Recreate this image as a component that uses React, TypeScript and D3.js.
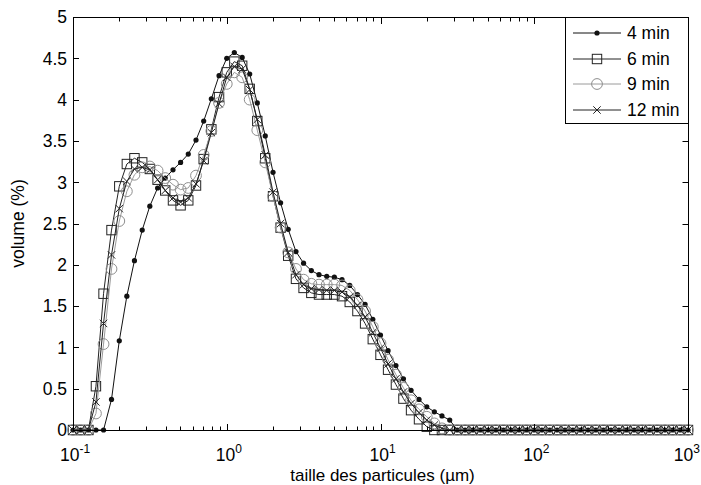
import React from "react";
import * as d3 from "d3";

const sizes = [
  0.1, 0.112, 0.126, 0.141, 0.158, 0.178, 0.2, 0.224, 0.251, 0.282, 0.316, 0.355, 0.398, 0.447, 0.501, 0.562, 0.631, 0.708, 0.794, 0.891,
  1, 1.12, 1.26, 1.41, 1.58, 1.78, 2, 2.24, 2.51, 2.82, 3.16, 3.55, 3.98, 4.47, 5.01, 5.62, 6.31, 7.08, 7.94, 8.91,
  10, 11.2, 12.6, 14.1, 15.8, 17.8, 20, 22.4, 25.1, 28.2, 31.6, 35.5, 39.8, 44.7, 50.1, 56.2, 63.1, 70.8, 79.4, 89.1,
  100, 112, 126, 141, 158, 178, 200, 224, 251, 282, 316, 355, 398, 447, 501, 562, 631, 708, 794, 891, 1000,
];

const min4 = [
  0, 0, 0, 0, 0, 0.37, 1.08, 1.62, 2.05, 2.42, 2.71, 2.93, 3.05, 3.15, 3.24, 3.34, 3.51, 3.74, 4.01, 4.29,
  4.5, 4.57, 4.51, 4.31, 3.96, 3.56, 3.12, 2.75, 2.43, 2.16, 2.02, 1.93, 1.88, 1.86, 1.85, 1.82, 1.75, 1.64, 1.52, 1.34,
  1.15, 0.96, 0.78, 0.62, 0.48, 0.37, 0.28, 0.22, 0.17, 0.12, 0, 0, 0, 0, 0, 0, 0, 0, 0, 0,
  0, 0, 0, 0, 0, 0, 0, 0, 0, 0, 0, 0, 0, 0, 0, 0, 0, 0, 0, 0, 0,
];

const min6 = [
  0, 0, 0, 0.53, 1.65, 2.42, 2.95, 3.22, 3.29, 3.24, 3.16, 3.03, 2.9, 2.78, 2.72, 2.78, 2.96, 3.28, 3.64, 4.03,
  4.33, 4.46, 4.41, 4.13, 3.74, 3.29, 2.83, 2.45, 2.11, 1.83, 1.72, 1.66, 1.64, 1.64, 1.64, 1.62, 1.55, 1.44, 1.29, 1.1,
  0.91, 0.73, 0.55, 0.38, 0.24, 0.13, 0.04, 0, 0, 0, 0, 0, 0, 0, 0, 0, 0, 0, 0, 0,
  0, 0, 0, 0, 0, 0, 0, 0, 0, 0, 0, 0, 0, 0, 0, 0, 0, 0, 0, 0, 0,
];

const min9 = [
  0, 0, 0, 0.2, 1.04, 1.95, 2.53, 2.89, 3.09, 3.18, 3.19, 3.14, 3.05, 2.97, 2.91, 2.93, 3.08, 3.33, 3.62, 3.96,
  4.19, 4.33, 4.27, 4.0, 3.63, 3.24, 2.83, 2.45, 2.15, 1.95, 1.82, 1.77, 1.76, 1.76, 1.76, 1.75, 1.69, 1.58, 1.44, 1.25,
  1.05, 0.85, 0.67, 0.51, 0.36, 0.25, 0.16, 0.08, 0.02, 0, 0, 0, 0, 0, 0, 0, 0, 0, 0, 0,
  0, 0, 0, 0, 0, 0, 0, 0, 0, 0, 0, 0, 0, 0, 0, 0, 0, 0, 0, 0, 0,
];

const min12 = [
  0, 0, 0, 0.34, 1.29, 2.12, 2.68, 3.01, 3.16, 3.18, 3.15, 3.03, 2.9, 2.81, 2.76, 2.81, 2.98, 3.26, 3.6, 3.95,
  4.27, 4.4, 4.37, 4.12, 3.76, 3.33, 2.88, 2.5, 2.15, 1.88, 1.76, 1.71, 1.7, 1.69, 1.69, 1.67, 1.61, 1.51, 1.37, 1.18,
  0.99, 0.8, 0.62, 0.46, 0.32, 0.21, 0.12, 0.06, 0.02, 0, 0, 0, 0, 0, 0, 0, 0, 0, 0, 0,
  0, 0, 0, 0, 0, 0, 0, 0, 0, 0, 0, 0, 0, 0, 0, 0, 0, 0, 0, 0, 0,
];

const seriesNames = ["4 min", "6 min", "9 min", "12 min"];
const yTicks = [0, 0.5, 1, 1.5, 2, 2.5, 3, 3.5, 4, 4.5, 5];
const yTickLabels = ["0", "0.5", "1", "1.5", "2", "2.5", "3", "3.5", "4", "4.5", "5"];
const xMajor = [0.1, 1, 10, 100, 1000];
const xExponents = ["-1", "0", "1", "2", "3"];

const W = 701;
const H = 485;
const L = 73;
const R = 688;
const T = 17;
const B = 430;
const FONT = "'Liberation Sans', Arial, Helvetica, sans-serif";
const FS = 17.5;

type Kind = "dot" | "square" | "circle" | "cross";

function Marker({ kind, x, y, color }: { kind: Kind; x: number; y: number; color: string }) {
  if (kind === "dot") return <circle cx={x} cy={y} r={2.6} fill={color} stroke="none" />;
  if (kind === "square")
    return <rect x={x - 4.7} y={y - 4.7} width={9.4} height={9.4} fill="none" stroke={color} strokeWidth={1} />;
  if (kind === "circle") return <circle cx={x} cy={y} r={5.4} fill="none" stroke={color} strokeWidth={1} />;
  return (
    <path
      d={`M${x - 3.7},${y - 3.7}L${x + 3.7},${y + 3.7}M${x - 3.7},${y + 3.7}L${x + 3.7},${y - 3.7}`}
      stroke={color}
      strokeWidth={1}
      fill="none"
    />
  );
}

export default function App() {
  const x = d3.scaleLog().domain([0.1, 1000]).range([L, R]);
  const y = d3.scaleLinear().domain([0, 5]).range([B, T]);

  const series: { name: string; values: number[]; kind: Kind; color: string; line: string }[] = [
    { name: seriesNames[0], values: min4, kind: "dot", color: "#111", line: "#111" },
    { name: seriesNames[1], values: min6, kind: "square", color: "#222", line: "#222" },
    { name: seriesNames[2], values: min9, kind: "circle", color: "#8e8e8e", line: "#9a9a9a" },
    { name: seriesNames[3], values: min12, kind: "cross", color: "#222", line: "#222" },
  ];

  const lineGen = d3
    .line<number>()
    .x((_, i) => x(sizes[i]))
    .y((d) => y(d));

  const minor: number[] = [];
  for (let e = -1; e < 3; e++) {
    for (let m = 2; m <= 9; m++) minor.push(m * Math.pow(10, e));
  }

  const legendRows = [33, 59, 84, 110];

  return (
    <svg
      width={W}
      height={H}
      style={{ position: "absolute", left: 0, top: 0, background: "#fff" }}
      fontFamily={FONT}
    >
      <rect x={0} y={0} width={W} height={H} fill="#fff" />
      {series.map((s) => (
        <g key={s.name}>
          <path d={lineGen(s.values) || ""} fill="none" stroke={s.line} strokeWidth={1} />
          {s.values.map((v, i) => (
            <Marker key={i} kind={s.kind} x={x(sizes[i])} y={y(v)} color={s.color} />
          ))}
        </g>
      ))}
      <rect x={L + 0.5} y={T + 0.5} width={R - L} height={B - T} fill="none" stroke="#000" strokeWidth={1} />
      {yTicks.map((t, i) => (
        <g key={t}>
          <line x1={L} x2={L + 6} y1={Math.round(y(t)) + 0.5} y2={Math.round(y(t)) + 0.5} stroke="#000" />
          <line x1={R + 0.5} x2={R - 5.5} y1={Math.round(y(t)) + 0.5} y2={Math.round(y(t)) + 0.5} stroke="#000" />
          <text x={67} y={y(t) + 6.3} fontSize={FS} textAnchor="end" fill="#000">
            {yTickLabels[i]}
          </text>
        </g>
      ))}
      {xMajor.map((t, i) => {
        const last = i === xMajor.length - 1;
        return (
          <g key={t}>
            <line x1={Math.round(x(t)) + 0.5} x2={Math.round(x(t)) + 0.5} y1={B + 0.5} y2={B - 6} stroke="#000" />
            <line x1={Math.round(x(t)) + 0.5} x2={Math.round(x(t)) + 0.5} y1={T + 0.5} y2={T + 7} stroke="#000" />
            <text
              x={last ? W - 1 : x(t) + 2}
              y={461}
              fontSize={FS}
              textAnchor={last ? "end" : "middle"}
              fill="#000"
            >
              10
              <tspan dy={-8} fontSize={12}>
                {xExponents[i]}
              </tspan>
            </text>
          </g>
        );
      })}
      {minor.map((t) => (
        <g key={"m" + t}>
          <line x1={Math.round(x(t)) + 0.5} x2={Math.round(x(t)) + 0.5} y1={B + 0.5} y2={B - 3.5} stroke="#000" />
          <line x1={Math.round(x(t)) + 0.5} x2={Math.round(x(t)) + 0.5} y1={T + 0.5} y2={T + 4.5} stroke="#000" />
        </g>
      ))}
      <text x={(L + R) / 2 + 2} y={481} fontSize={17} textAnchor="middle" fill="#000">
        taille des particules (µm)
      </text>
      <text
        transform={`translate(${24},${(T + B) / 2}) rotate(-90)`}
        fontSize={FS}
        textAnchor="middle"
        fill="#000"
      >
        volume (%)
      </text>
      <rect x={565.5} y={T + 0.5} width={R - 565} height={106} fill="#fff" stroke="#000" strokeWidth={1} />
      {series.map((s, i) => (
        <g key={"lg" + s.name}>
          <line x1={573} x2={621} y1={legendRows[i]} y2={legendRows[i]} stroke={s.line} strokeWidth={1} />
          <Marker kind={s.kind} x={597} y={legendRows[i]} color={s.color} />
          <text x={627} y={legendRows[i] + 6.3} fontSize={FS} fill="#000">
            {s.name}
          </text>
        </g>
      ))}
    </svg>
  );
}
